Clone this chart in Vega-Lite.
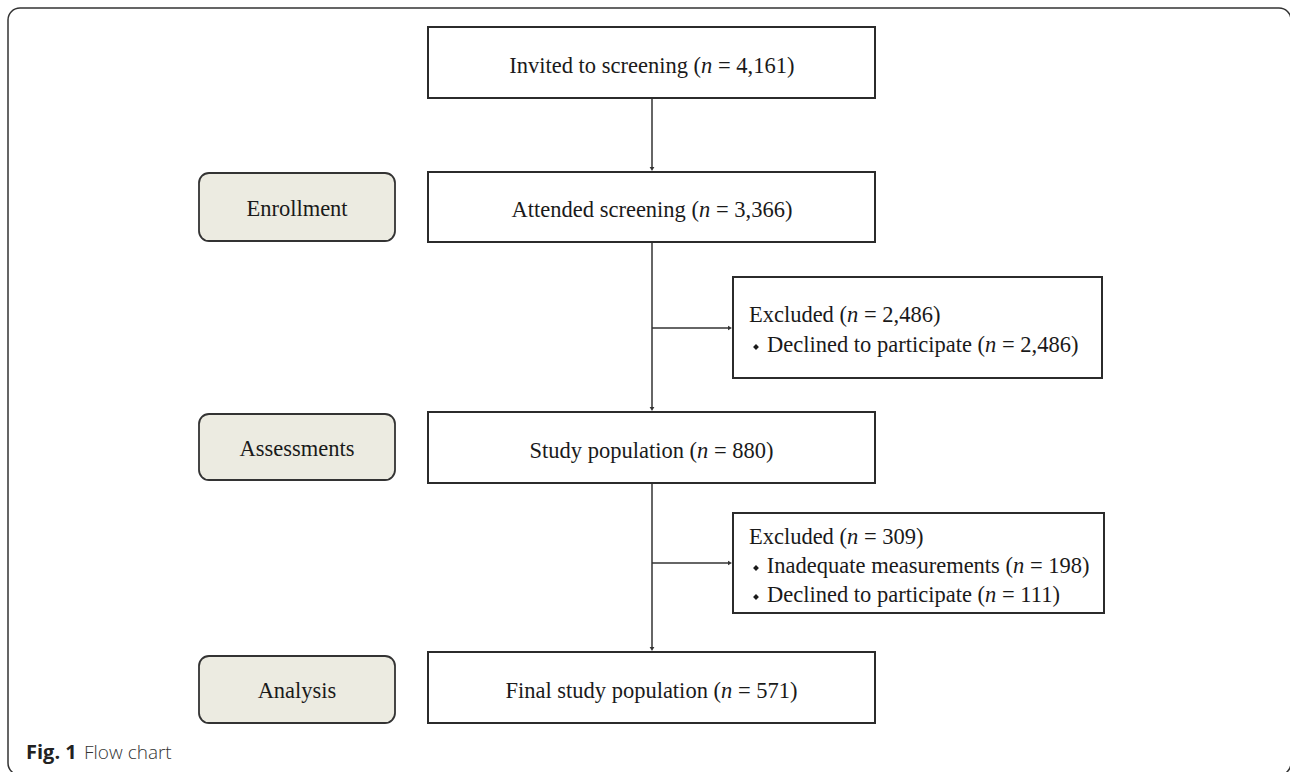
{
  "$schema": "https://vega.github.io/schema/vega-lite/v6.json",
  "width": 1290,
  "height": 772,
  "autosize": {"type": "fit", "contains": "padding"},
  "padding": 0,
  "background": "white",
  "config": {"view": {"stroke": null}},
  "datasets": {
    "frame": [{"x": 8, "x2": 1291, "y": 8, "y2": 775}],
    "boxes": [
      {"id": "invited", "x": 428, "x2": 875, "y": 27, "y2": 98},
      {"id": "attended", "x": 428, "x2": 875, "y": 172, "y2": 242},
      {"id": "excluded1", "x": 733, "x2": 1102, "y": 277, "y2": 378},
      {"id": "study", "x": 428, "x2": 875, "y": 412, "y2": 483},
      {"id": "excluded2", "x": 733, "x2": 1104, "y": 513, "y2": 613},
      {"id": "final", "x": 428, "x2": 875, "y": 652, "y2": 723}
    ],
    "stages": [
      {"label": "Enrollment", "x": 199, "x2": 395, "y": 173, "y2": 241, "cx": 297, "cy": 209},
      {"label": "Assessments", "x": 199, "x2": 395, "y": 414, "y2": 480, "cx": 297, "cy": 449},
      {"label": "Analysis", "x": 199, "x2": 395, "y": 656, "y2": 723, "cx": 297, "cy": 691}
    ],
    "links": [
      {"x": 652, "x2": 652, "y": 98, "y2": 168},
      {"x": 652, "x2": 652, "y": 242, "y2": 408},
      {"x": 652, "x2": 729, "y": 328, "y2": 328},
      {"x": 652, "x2": 652, "y": 483, "y2": 648},
      {"x": 652, "x2": 729, "y": 563, "y2": 563}
    ],
    "arrows": [
      {"x": 652, "y": 169, "dir": "down"},
      {"x": 652, "y": 409, "dir": "down"},
      {"x": 730, "y": 328, "dir": "right"},
      {"x": 652, "y": 649, "dir": "down"},
      {"x": 730, "y": 563, "dir": "right"}
    ],
    "labels": [
      {"pre": "Invited to screening (", "n": "n", "post": "= 4,161)", "x": 701, "y": 66},
      {"pre": "Attended screening (", "n": "n", "post": "= 3,366)", "x": 699, "y": 210},
      {"pre": "Excluded (", "n": "n", "post": "= 2,486)", "x": 847, "y": 315},
      {"pre": "Declined to participate (", "n": "n", "post": "= 2,486)", "x": 985, "y": 345},
      {"pre": "Study population (", "n": "n", "post": "= 880)", "x": 697, "y": 451},
      {"pre": "Excluded (", "n": "n", "post": "= 309)", "x": 847, "y": 537},
      {"pre": "Inadequate measurements (", "n": "n", "post": "= 198)", "x": 1013, "y": 566},
      {"pre": "Declined to participate (", "n": "n", "post": "= 111)", "x": 985, "y": 595},
      {"pre": "Final study population (", "n": "n", "post": "= 571)", "x": 721, "y": 691}
    ],
    "bullets": [
      {"x": 756, "y": 347},
      {"x": 756, "y": 568},
      {"x": 756, "y": 597}
    ],
    "caption": [
      {"part": "Fig. 1", "x": 26, "y": 759},
      {"part": "Flow chart", "x": 84, "y": 759}
    ]
  },
  "layer": [
    {
      "data": {"name": "frame"},
      "mark": {"type": "rect", "fill": null, "stroke": "#333", "strokeWidth": 1.5, "cornerRadius": 12, "clip": true},
      "encoding": {
        "x": {"field": "x", "type": "quantitative", "scale": {"domain": [0, 1290], "nice": false, "zero": false}, "axis": null},
        "x2": {"field": "x2"},
        "y": {"field": "y", "type": "quantitative", "scale": {"domain": [0, 772], "reverse": true, "nice": false, "zero": false}, "axis": null},
        "y2": {"field": "y2"}
      }
    },
    {
      "data": {"name": "links"},
      "mark": {"type": "rule", "stroke": "#333", "strokeWidth": 1.5},
      "encoding": {
        "x": {"field": "x", "type": "quantitative"},
        "x2": {"field": "x2"},
        "y": {"field": "y", "type": "quantitative"},
        "y2": {"field": "y2"}
      }
    },
    {
      "data": {"name": "arrows"},
      "mark": {"type": "point", "filled": true, "opacity": 1, "color": "#333", "size": 22},
      "encoding": {
        "x": {"field": "x", "type": "quantitative"},
        "y": {"field": "y", "type": "quantitative"},
        "shape": {"field": "dir", "type": "nominal", "scale": {"domain": ["down", "right"], "range": ["triangle-down", "triangle-right"]}, "legend": null}
      }
    },
    {
      "data": {"name": "boxes"},
      "mark": {"type": "rect", "fill": "white", "stroke": "#2b2b2b", "strokeWidth": 2},
      "encoding": {
        "x": {"field": "x", "type": "quantitative"},
        "x2": {"field": "x2"},
        "y": {"field": "y", "type": "quantitative"},
        "y2": {"field": "y2"}
      }
    },
    {
      "data": {"name": "stages"},
      "mark": {"type": "rect", "fill": "#ecebe1", "stroke": "#333", "strokeWidth": 1.8, "cornerRadius": 10},
      "encoding": {
        "x": {"field": "x", "type": "quantitative"},
        "x2": {"field": "x2"},
        "y": {"field": "y", "type": "quantitative"},
        "y2": {"field": "y2"}
      }
    },
    {
      "data": {"name": "stages"},
      "mark": {"type": "text", "font": "Liberation Serif", "fontSize": 22.5, "color": "#1a1a1a", "align": "center", "baseline": "middle"},
      "encoding": {
        "x": {"field": "cx", "type": "quantitative"},
        "y": {"field": "cy", "type": "quantitative"},
        "text": {"field": "label"}
      }
    },
    {
      "data": {"name": "labels"},
      "mark": {"type": "text", "font": "Liberation Serif", "fontSize": 22.5, "color": "#1a1a1a", "align": "right", "baseline": "middle"},
      "encoding": {
        "x": {"field": "x", "type": "quantitative"},
        "y": {"field": "y", "type": "quantitative"},
        "text": {"field": "pre"}
      }
    },
    {
      "data": {"name": "labels"},
      "mark": {"type": "text", "font": "Liberation Serif", "fontSize": 22.5, "fontStyle": "italic", "color": "#1a1a1a", "align": "left", "baseline": "middle"},
      "encoding": {
        "x": {"field": "x", "type": "quantitative"},
        "y": {"field": "y", "type": "quantitative"},
        "text": {"field": "n"}
      }
    },
    {
      "data": {"name": "labels"},
      "mark": {"type": "text", "font": "Liberation Serif", "fontSize": 22.5, "color": "#1a1a1a", "align": "left", "baseline": "middle", "dx": 17},
      "encoding": {
        "x": {"field": "x", "type": "quantitative"},
        "y": {"field": "y", "type": "quantitative"},
        "text": {"field": "post"}
      }
    },
    {
      "data": {"name": "bullets"},
      "mark": {"type": "point", "shape": "diamond", "filled": true, "opacity": 1, "color": "#1a1a1a", "size": 34},
      "encoding": {
        "x": {"field": "x", "type": "quantitative"},
        "y": {"field": "y", "type": "quantitative"}
      }
    },
    {
      "data": {"name": "caption"},
      "transform": [{"filter": "datum.part == 'Fig. 1'"}],
      "mark": {"type": "text", "font": "Open Sans", "fontSize": 20, "fontWeight": "bold", "color": "#222", "align": "left", "baseline": "alphabetic"},
      "encoding": {
        "x": {"field": "x", "type": "quantitative"},
        "y": {"field": "y", "type": "quantitative"},
        "text": {"field": "part"}
      }
    },
    {
      "data": {"name": "caption"},
      "transform": [{"filter": "datum.part == 'Flow chart'"}],
      "mark": {"type": "text", "font": "Open Sans", "fontSize": 19, "fontWeight": 300, "color": "#333", "align": "left", "baseline": "alphabetic"},
      "encoding": {
        "x": {"field": "x", "type": "quantitative"},
        "y": {"field": "y", "type": "quantitative"},
        "text": {"field": "part"}
      }
    }
  ]
}
